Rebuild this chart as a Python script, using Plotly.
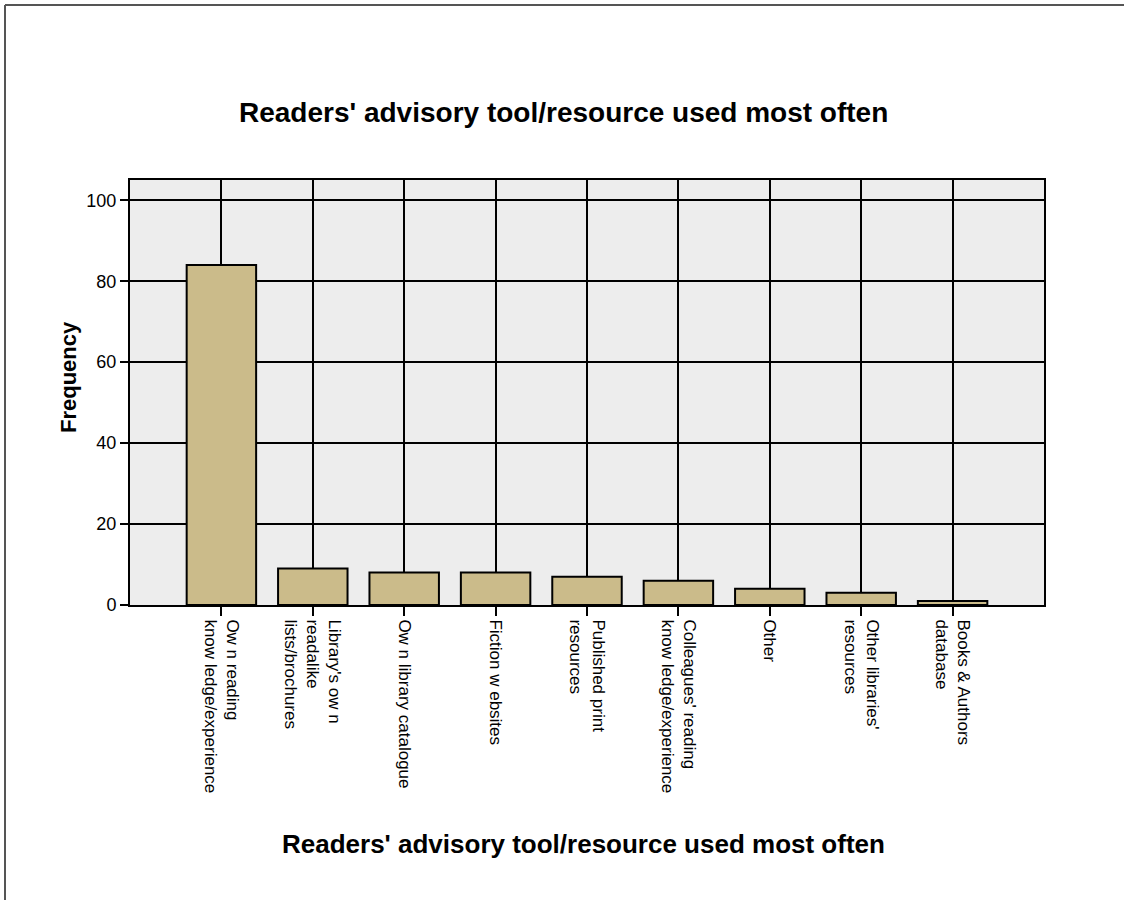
import plotly.graph_objects as go

categories = [
    "Ow n reading<br>know ledge/experience",
    "Library's ow n<br>readalike<br>lists/brochures",
    "Ow n library catalogue",
    "Fiction w ebsites",
    "Published print<br>resources",
    "Colleagues' reading<br>know ledge/experience",
    "Other",
    "Other libraries'<br>resources",
    "Books & Authors<br>database",
]
frequency = [84, 9, 8, 8, 7, 6, 4, 3, 1]
y_ticks = [0, 20, 40, 60, 80, 100]

title_text = "Readers' advisory tool/resource used most often"
y_title = "Frequency"
font_family = "Liberation Sans, Arial, sans-serif"

fig = go.Figure(
    go.Bar(
        x=categories,
        y=frequency,
        marker=dict(color="#cbbb8a", line=dict(color="black", width=2)),
    )
)

W, H = 1124, 900
L, R, T, B = 130, 80, 180, 295
pw, ph = W - L - R, H - T - B

def px_x(p):
    return (p - L) / pw

def px_y(p):
    return (H - B - p) / ph

fig.update_layout(
    width=W,
    height=H,
    margin=dict(l=L, r=R, t=T, b=B),
    paper_bgcolor="white",
    plot_bgcolor="#ededed",
    bargap=0.24,
    showlegend=False,
    font=dict(family=font_family, color="black"),
    xaxis=dict(
        type="category",
        range=[-1, 9],
        showgrid=True,
        gridcolor="black",
        gridwidth=2,
        showline=True,
        linecolor="black",
        linewidth=2,
        mirror=True,
        ticks="outside",
        ticklen=9,
        tickwidth=2,
        tickcolor="black",
        tickangle=90,
        tickfont=dict(size=17, family=font_family),
    ),
    yaxis=dict(
        range=[0, 105],
        tickvals=y_ticks,
        showgrid=True,
        gridcolor="black",
        gridwidth=2,
        zeroline=False,
        showline=True,
        linecolor="black",
        linewidth=2,
        mirror=True,
        ticks="outside",
        ticklen=8,
        tickwidth=2,
        tickcolor="black",
        tickfont=dict(size=18, family=font_family),
    ),
    annotations=[
        dict(
            text="<b>" + title_text + "</b>",
            xref="paper", yref="paper",
            x=px_x(237), y=px_y(112),
            xanchor="left", yanchor="middle",
            showarrow=False,
            font=dict(size=28, family=font_family, color="black"),
        ),
        dict(
            text="<b>" + title_text + "</b>",
            xref="paper", yref="paper",
            x=px_x(280), y=px_y(844),
            xanchor="left", yanchor="middle",
            showarrow=False,
            font=dict(size=26, family=font_family, color="black"),
        ),
        dict(
            text="<b>" + y_title + "</b>",
            xref="paper", yref="paper",
            x=px_x(68), y=px_y(377),
            xanchor="center", yanchor="middle",
            textangle=-90,
            showarrow=False,
            font=dict(size=22, family=font_family, color="black"),
        ),
    ],
    shapes=[
        dict(type="line", xref="paper", yref="paper",
             x0=px_x(5), x1=px_x(1124), y0=px_y(5), y1=px_y(5),
             line=dict(color="#555555", width=2)),
        dict(type="line", xref="paper", yref="paper",
             x0=px_x(5), x1=px_x(5), y0=px_y(5), y1=px_y(900),
             line=dict(color="#555555", width=2)),
    ],
)

fig.write_html(
    "out.html",
    config={"displayModeBar": False},
    post_script="document.body.style.margin='0';",
)
